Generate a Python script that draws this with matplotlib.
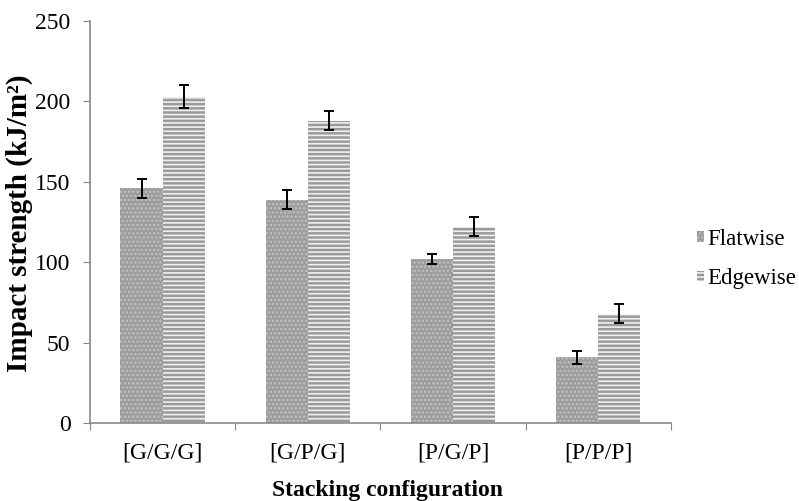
import matplotlib.pyplot as plt
import numpy as np

plt.rcParams['font.family'] = ['Liberation Serif', 'DejaVu Serif']
plt.rcParams['hatch.linewidth'] = 1.2

categories = ['[G/G/G]', '[G/P/G]', '[P/G/P]', '[P/P/P]']
flatwise = [146, 139, 102, 41]
flatwise_err = [6, 6, 3, 4]
edgewise = [203, 188, 122, 68]
edgewise_err = [7, 6, 6, 6]

fig = plt.figure(figsize=(7.99, 5.01), dpi=100)
ax = fig.add_axes([0.1126, 0.1557, 0.7272, 0.8023])

x = np.arange(len(categories))
w = 0.29

# flatwise bars: grey with fine dots
ax.bar(x - w / 2, flatwise, w, color='#9c9c9c', edgecolor='#c0c0c0',
       hatch='....', linewidth=0, label='Flatwise')
# edgewise bars: grey with white dashes
ax.bar(x + w / 2, edgewise, w, color='#9a9a9a', edgecolor='#f0f0f0',
       hatch='----', linewidth=0, label='Edgewise')

ax.errorbar(x - w / 2, flatwise, yerr=flatwise_err, fmt='none', ecolor='black',
            elinewidth=1.4, capsize=3.8, capthick=1.4)
ax.errorbar(x + w / 2, edgewise, yerr=edgewise_err, fmt='none', ecolor='black',
            elinewidth=1.4, capsize=3.8, capthick=1.4)

ax.set_xlim(-0.5, len(categories) - 0.5)
ax.set_ylim(0, 250)
ax.set_yticks(range(0, 251, 50))
ax.set_xticks(np.arange(-0.5, len(categories), 1), minor=False)
ax.set_xticklabels([])
ax.set_xticks(x, minor=True)
ax.set_xticklabels(categories, minor=True)
ax.tick_params(axis='x', which='minor', length=0, labelsize=17, pad=14)
ax.tick_params(axis='x', which='major', length=5, color='#888888', direction='out')
ax.tick_params(axis='y', length=5, color='#888888', labelsize=17, pad=9)

for side in ['top', 'right']:
    ax.spines[side].set_visible(False)
for side in ['left', 'bottom']:
    ax.spines[side].set_color('#888888')
    ax.spines[side].set_linewidth(1.2)

fig.text(19 / 799, 1 - 223 / 501, 'Impact strength (kJ/m²)', fontsize=21,
         fontweight='bold', rotation=90, ha='center', va='center')
fig.text(387 / 799, 1 - 496 / 501, 'Stacking configuration', fontsize=17,
         fontweight='bold', ha='center', va='baseline')

ax.legend(loc='center left', bbox_to_anchor=(697 / 799, 1 - 259 / 501),
          bbox_transform=fig.transFigure, frameon=False, borderpad=0,
          borderaxespad=0, fontsize=16.5, handlelength=0.3, handleheight=0.35,
          handletextpad=0.15, labelspacing=0.8)

fig.savefig('out.png', dpi=100)
